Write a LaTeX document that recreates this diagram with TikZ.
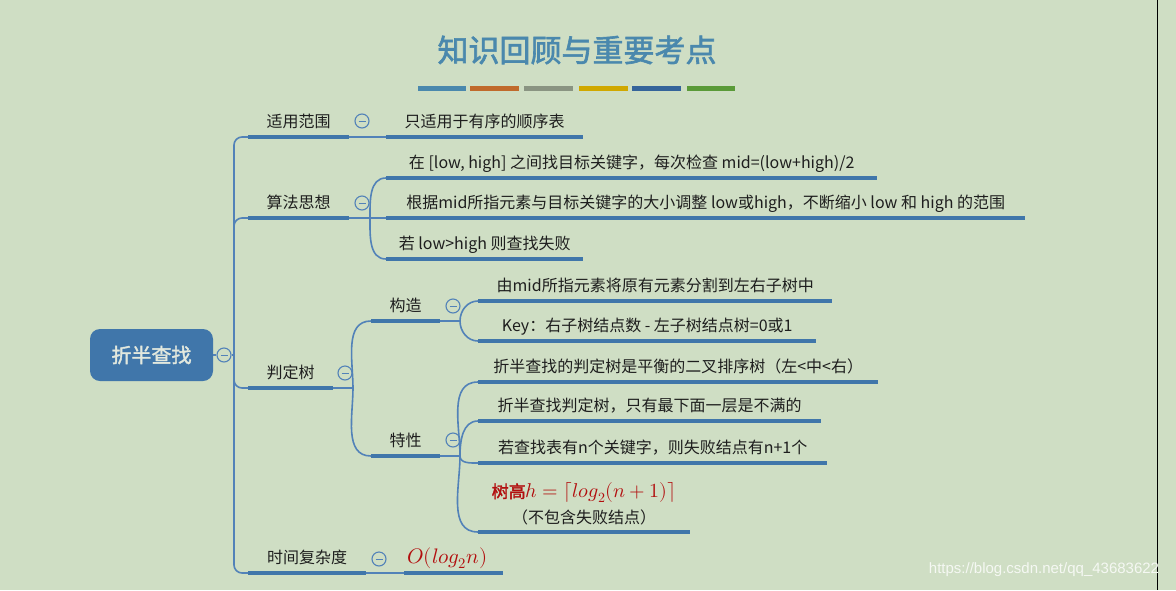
\documentclass[tikz,border=0pt]{standalone}
\usepackage{fontspec}
\usepackage{unicode-math}
\usepackage{tikz}
\newfontfamily\cjk{Noto Sans CJK SC}[AutoFakeBold=2]
\newfontfamily\urlfont{Liberation Sans}
\definecolor{paper}{RGB}{207,222,196}
\definecolor{mapblue}{RGB}{64,118,170}
\definecolor{linkblue}{RGB}{82,130,184}
\definecolor{titleblue}{RGB}{74,136,173}
\definecolor{inkdark}{RGB}{30,30,30}
\definecolor{rootink}{RGB}{226,232,222}
\definecolor{formulared}{RGB}{178,14,14}
\definecolor{stripeA}{RGB}{74,136,173}
\definecolor{stripeB}{RGB}{192,106,44}
\definecolor{stripeC}{RGB}{138,148,130}
\definecolor{stripeD}{RGB}{208,168,0}
\definecolor{stripeE}{RGB}{53,100,154}
\definecolor{stripeF}{RGB}{90,154,56}

\begin{document}
\begin{tikzpicture}[x=1pt, y=-1pt,
    rootbox/.style={rectangle, rounded corners=10pt, fill=mapblue,
        minimum width=123pt, minimum height=52pt, text=rootink,
        font=\cjk\bfseries\fontsize{20}{24}\selectfont},
    bar/.style={draw=mapblue, line width=4pt},
    topic/.style={anchor=south west, inner xsep=0pt, inner ysep=6.5pt,
        text height=11.5pt, text depth=3pt, text=inkdark,
        font=\cjk\fontsize{16}{19}\selectfont,
        append after command={(\tikzlastnode.south west) edge[bar] (\tikzlastnode.south east)}},
    link/.style={draw=linkblue, line width=1.6pt},
    btn/.style={circle, draw=linkblue, fill=paper, line width=1.1pt,
        minimum size=14pt, inner sep=0pt,
        path picture={\draw[linkblue, line width=1pt]
            ([xshift=-3.5pt]path picture bounding box.center) --
            ([xshift=3.5pt]path picture bounding box.center);}},
    stripe/.style={line width=5pt}
]
\useasboundingbox (0,0) rectangle (1176,590);
\fill[paper] (0,0) rectangle (1176,590);

% title and colour stripes
\node[font=\cjk\bfseries\fontsize{31}{36}\selectfont, text=titleblue] (title) at (577,50) {知识回顾与重要考点};
\draw[stripe, stripeA] (418,88) -- (466,88);
\draw[stripe, stripeB] (470,88) -- (519,88);
\draw[stripe, stripeC] (524,88) -- (573,88);
\draw[stripe, stripeD] (579,88) -- (628,88);
\draw[stripe, stripeE] (632,88) -- (681,88);
\draw[stripe, stripeF] (687,88) -- (735,88);

% root
\node[rootbox] (root) at (151.5,355) {折半查找};
\node[btn] (root-btn) at (224,355) {};
\coordinate (trunk) at (234,355);

% first level
\node[topic, minimum width=101pt] (fanwei) at (248,137) {适用范围};
\node[topic, minimum width=101pt] (suanfa) at (248,218) {算法思想};
\node[topic, minimum width=85pt] (pdt) at (248,388) {判定树};
\node[topic, minimum width=118pt] (shijian) at (248,573) {时间复杂度};

\node[btn] (fanwei-btn) at (362,121) {};
\node[btn] (suanfa-btn) at (362,203) {};
\node[btn] (pdt-btn) at (345,373) {};
\node[btn] (shijian-btn) at (379,559) {};

% leaves of the first level
\node[topic, minimum width=197pt] (fw1) at (386,137) {只适用于有序的顺序表};
\node[topic, minimum width=491pt] (sf1) at (386,178) {在 [low, high] 之间找目标关键字，每次检查 mid=(low+high)/2};
\node[topic, minimum width=639pt] (sf2) at (386,218) {根据mid所指元素与目标关键字的大小调整 low或high，不断缩小 low 和 high 的范围};
\node[topic, minimum width=197pt] (sf3) at (386,259) {若 low>high 则查找失败};
\node[topic, minimum width=99pt, text=formulared, font=\fontsize{21}{24}\selectfont] (sj1) at (404,573) {$O(log_2n)$\hspace*{12pt}};

% decision tree
\node[topic, minimum width=69pt] (gouzao) at (371,321) {构造};
\node[topic, minimum width=69pt] (texing) at (371,456) {特性};
\node[btn] (gouzao-btn) at (453,306) {};
\node[btn] (texing-btn) at (453,440) {};

\node[topic, minimum width=354pt] (gz1) at (478,301) {由mid所指元素将原有元素分割到左右子树中};
\node[topic, minimum width=338pt] (gz2) at (478,341) {Key：右子树结点数 - 左子树结点树=0或1};
\node[topic, minimum width=400pt] (tx1) at (478,382) {折半查找的判定树是平衡的二叉排序树（左<中<右）};
\node[topic, minimum width=343pt] (tx2) at (478,421) {折半查找判定树，只有最下面一层是不满的};
\node[topic, minimum width=349pt] (tx3) at (478,463) {若查找表有n个关键字，则失败结点有n+1个};
\node[topic, minimum width=212pt, text height=, text depth=, align=center] (tx4) at (478,532)
    {{\fontsize{17}{20}\selectfont\color{formulared}\bfseries 树高\fontsize{20}{24}\selectfont$h=\lceil log_2(n+1)\rceil$}\\[7pt]（不包含失败结点）};

% forks
\coordinate (sf-fork) at (370,218);
\coordinate (pdt-fork) at (353,388);
\coordinate (gz-fork) at (460,321);
\coordinate (tx-fork) at (460,456);

% connectors
\draw[link] (root) -- (root-btn);
\draw[link] (root-btn) -- (trunk);
\draw[link, rounded corners=8pt] (fanwei.south west) -| (trunk) |- (shijian.south west);
\draw[link, rounded corners=8pt] (trunk) |- (suanfa.south west);
\draw[link, rounded corners=8pt] (trunk) |- (pdt.south west);

\draw[link] (fanwei.south east) -- (fw1.south west);
\draw[link] (shijian.south east) -- (sj1.south west);

\draw[link] (suanfa.south east) -- (sf-fork);
\draw[link] (sf-fork) to[out=90, in=180] (sf1.south west);
\draw[link] (sf-fork) -- (sf2.south west);
\draw[link] (sf-fork) to[out=-90, in=180] (sf3.south west);

\draw[link] (pdt.south east) -- (pdt-fork);
\draw[link] (pdt-fork) to[out=90, in=180] (gouzao.south west);
\draw[link] (pdt-fork) to[out=-90, in=180] (texing.south west);

\draw[link] (gouzao.south east) -- (gz-fork);
\draw[link] (gz-fork) to[out=90, in=180] (gz1.south west);
\draw[link] (gz-fork) to[out=-90, in=180] (gz2.south west);

\draw[link] (texing.south east) -- (tx-fork);
\draw[link] (tx-fork) to[out=90, in=180] (tx1.south west);
\draw[link] (tx-fork) to[out=90, in=180] (tx2.south west);
\draw[link] (tx-fork) to[out=-90, in=180] (tx3.south west);
\draw[link] (tx-fork) to[out=-90, in=180] (tx4.south west);

% screenshot edge and watermark
\draw[black, line width=1pt] (1157,0) -- (1157,590);
\node[font=\urlfont\fontsize{15}{17}\selectfont, text=white!80!paper] (mark) at (1044,570) {https://blog.csdn.net/qq\_43683622};
\end{tikzpicture}
\end{document}
